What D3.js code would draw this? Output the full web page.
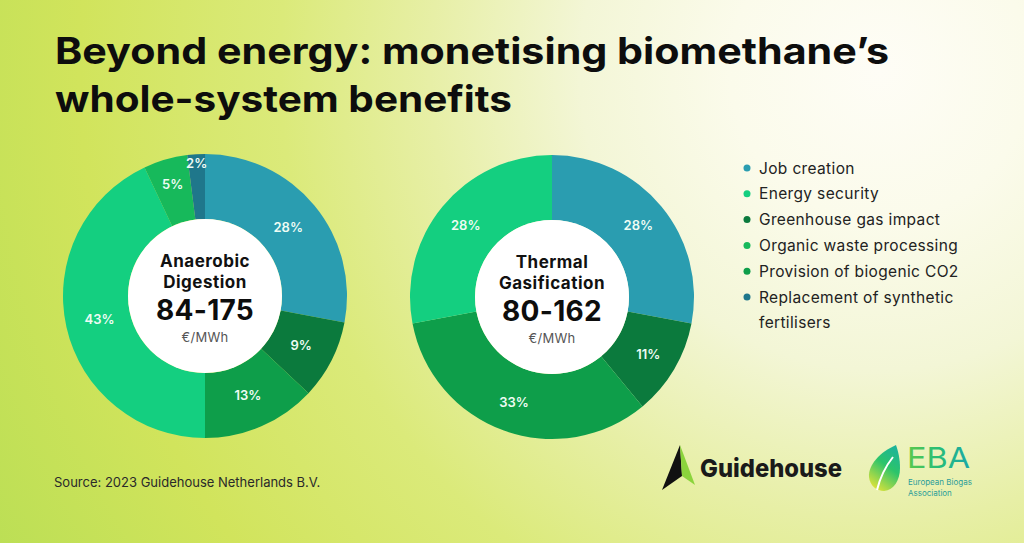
<!DOCTYPE html>
<html>
<head>
<meta charset="utf-8">
<script src="https://cdn.jsdelivr.net/npm/d3@7"></script>
<style>
  body { margin: 0; overflow: hidden; }
  svg text { font-family: Inter, "Open Sans", sans-serif; }
</style>
</head>
<body>
<svg id="svg" width="1024" height="543"></svg>
<script>
// Categories and colours (legend order)
const categories = [
  "Job creation",
  "Energy security",
  "Greenhouse gas impact",
  "Organic waste processing",
  "Provision of biogenic CO2",
  "Replacement of synthetic fertilisers"
];
const categoryColors = ["#2a9db0", "#14cf80", "#0b7a3d", "#17b95b", "#0e9e4a", "#1f778b"];

// Slices clockwise from 12 o'clock
const adSlices = ["Job creation", "Greenhouse gas impact", "Provision of biogenic CO2",
  "Energy security", "Organic waste processing", "Replacement of synthetic fertilisers"];
const adValues = [28, 9, 13, 43, 5, 2];

const tgSlices = ["Job creation", "Greenhouse gas impact", "Provision of biogenic CO2", "Energy security"];
const tgValues = [28, 11, 33, 28];

const donutNames = [["Anaerobic", "Digestion"], ["Thermal", "Gasification"]];
const costRanges = ["84-175", "80-162"];
const costUnit = "€/MWh";

const titleLines = ["Beyond energy: monetising biomethane’s", "whole-system benefits"];
const sourceText = "Source: 2023 Guidehouse Netherlands B.V.";

const attr = {
  width: 1024,
  height: 543,
  outer: 142,
  hole: 77,
  donuts: [{ cx: 205, cy: 296, labelR: 108 }, { cx: 552, cy: 297, labelR: 112 }],
  legend: { x: 747, y: 168, step: 25.8 }
}

const svg = d3.select("svg#svg");
const defs = svg.append("defs");

var translate = function(a, b) {
  return "translate(" + a + ", " + b + ")";
}

// Background
let bg = defs.append("radialGradient")
  .attr("id", "bg")
  .attr("gradientUnits", "userSpaceOnUse")
  .attr("cx", 880).attr("cy", 70).attr("r", 1000);
[[0, "#fefdf6"], [0.15, "#fbfbeb"], [0.3, "#f3f6d6"], [0.45, "#e7efa6"],
 [0.6, "#dbea7a"], [0.8, "#d1e45c"], [1, "#bcdf55"]].forEach(function(s) {
  bg.append("stop").attr("offset", s[0]).attr("stop-color", s[1]);
});
svg.append("rect").attr("width", attr.width).attr("height", attr.height).attr("fill", "url(#bg)");

// Title
const titleWidths = [834, 457];
svg.append("g").selectAll("text")
  .data(titleLines)
  .enter()
  .append("text")
  .attr("x", 55)
  .attr("y", (d, i) => 64 + i * 48)
  .attr("textLength", (d, i) => titleWidths[i])
  .attr("lengthAdjust", "spacingAndGlyphs")
  .style("font-size", "37px")
  .style("font-weight", 700)
  .style("fill", "#0d0d0d")
  .text(d => d);

const colorScale = d3.scaleOrdinal().domain(categories).range(categoryColors);

const pie = d3.pie().sort(null).value(d => d.value);
const arc = d3.arc().innerRadius(attr.hole).outerRadius(attr.outer);

// small slices get their labels pushed toward the rim
var labelRadius = function(d, base) {
  let v = d.data.value;
  if (v < 4) return 133;
  if (v < 8) return 116;
  return base;
}

var drawDonut = function(slices, values, k) {
  let c = attr.donuts[k];
  let data = slices.map((s, i) => ({ cat: s, value: values[i] }));
  let g = svg.append("g").attr("transform", translate(c.cx, c.cy));

  g.selectAll("path.slice")
    .data(pie(data))
    .enter()
    .append("path")
    .attr("class", "slice")
    .attr("d", arc)
    .style("fill", d => colorScale(d.data.cat));

  g.selectAll("text.pct")
    .data(pie(data))
    .enter()
    .append("text")
    .attr("class", "pct")
    .attr("transform", function(d) {
      let r = labelRadius(d, c.labelR);
      let a = (d.startAngle + d.endAngle) / 2;
      return translate(Math.sin(a) * r, -Math.cos(a) * r);
    })
    .attr("text-anchor", "middle")
    .attr("dy", "0.36em")
    .style("font-size", "13px")
    .style("font-weight", 600)
    .style("fill", "#eefcf4")
    .text(d => d.data.value + "%");

  g.append("circle").attr("r", attr.hole).style("fill", "#ffffff");

  g.selectAll("text.name")
    .data(donutNames[k])
    .enter()
    .append("text")
    .attr("class", "name")
    .attr("text-anchor", "middle")
    .attr("y", (d, i) => -29 + i * 20.5)
    .style("font-size", "17px")
    .style("font-weight", 700)
    .style("letter-spacing", "0.5px")
    .style("fill", "#111")
    .text(d => d);

  g.append("text")
    .attr("text-anchor", "middle")
    .attr("y", 24)
    .style("font-size", "28px")
    .style("font-weight", 700)
    .style("letter-spacing", "0.3px")
    .style("fill", "#0d0d0d")
    .text(costRanges[k]);

  g.append("text")
    .attr("text-anchor", "middle")
    .attr("y", 46)
    .style("font-size", "13px")
    .style("letter-spacing", "0.3px")
    .style("fill", "#555")
    .text(costUnit);
}

drawDonut(adSlices, adValues, 0);
drawDonut(tgSlices, tgValues, 1);

// Legend
let legend = svg.append("g").selectAll("g")
  .data(categories)
  .enter()
  .append("g")
  .attr("transform", (d, i) => translate(attr.legend.x, attr.legend.y + i * attr.legend.step));

legend.append("circle")
  .attr("r", 3.5)
  .style("fill", colorScale);

legend.append("text")
  .attr("x", 12)
  .attr("dy", "0.36em")
  .style("font-size", "15.5px")
  .style("letter-spacing", "0.35px")
  .style("fill", "#222")
  .each(function(d) {
    // wrap long labels at ~215px
    let t = d3.select(this);
    let words = d.split(" ");
    let line = [];
    let tspan = t.append("tspan").attr("x", 12);
    words.forEach(function(w) {
      line.push(w);
      tspan.text(line.join(" "));
      if (tspan.node().getComputedTextLength() > 215 && line.length > 1) {
        line.pop();
        tspan.text(line.join(" "));
        line = [w];
        tspan = t.append("tspan").attr("x", 12).attr("dy", attr.legend.step).text(w);
      }
    });
  });

// Source
svg.append("text")
  .attr("x", 54)
  .attr("y", 487)
  .style("font-size", "13px")
  .style("fill", "#2a2a2a")
  .text(sourceText);

// Guidehouse logo
let gh = svg.append("g");
gh.append("polygon").attr("points", "680,445 662,490 682,476").style("fill", "#111");
gh.append("polygon").attr("points", "680,445 682,476 695,485").style("fill", "#8bd43c");
gh.append("text")
  .attr("x", 700).attr("y", 477)
  .attr("textLength", 142).attr("lengthAdjust", "spacingAndGlyphs")
  .style("font-size", "25px").style("font-weight", 800).style("fill", "#1a1a1a")
  .text("Guidehouse");

// EBA logo
let leafGrad = defs.append("linearGradient").attr("id", "leaf")
  .attr("x1", 0.8).attr("y1", 0).attr("x2", 0.3).attr("y2", 1);
[[0, "#1bb39c"], [0.45, "#2cc46a"], [1, "#dbe23a"]].forEach(function(s) {
  leafGrad.append("stop").attr("offset", s[0]).attr("stop-color", s[1]);
});
let ebaGrad = defs.append("linearGradient").attr("id", "eba")
  .attr("x1", 0).attr("y1", 0).attr("x2", 1).attr("y2", 0);
[[0, "#5cc94a"], [0.5, "#27bd78"], [1, "#1aa8a8"]].forEach(function(s) {
  ebaGrad.append("stop").attr("offset", s[0]).attr("stop-color", s[1]);
});
let eba = svg.append("g");
eba.append("path")
  .attr("d", "M896,445 C880,452 868,465 869,477 C870,486 877,491 884,491 C894,490 900,480 900,468 C900,458 898,451 896,445 Z")
  .style("fill", "url(#leaf)");
eba.append("path")
  .attr("d", "M877,490 C880,478 885,467 893,457")
  .style("fill", "none").style("stroke", "#ffffff").style("stroke-width", 2);
eba.append("text")
  .attr("x", 907).attr("y", 468)
  .attr("textLength", 63).attr("lengthAdjust", "spacingAndGlyphs")
  .style("font-size", "29px").style("font-weight", 400).style("fill", "url(#eba)")
  .text("EBA");
eba.selectAll("text.small")
  .data(["European Biogas", "Association"])
  .enter()
  .append("text")
  .attr("class", "small")
  .attr("x", 908).attr("y", (d, i) => 485 + i * 11)
  .style("font-size", "8px").style("fill", "#2a9d9a")
  .text(d => d);
</script>
</body>
</html>
